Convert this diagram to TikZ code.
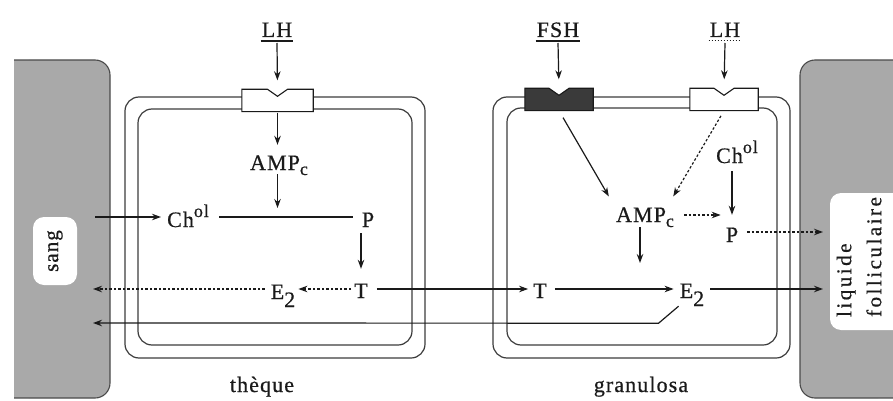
\documentclass[tikz,border=0pt]{standalone}
\usepackage{fontspec}
\setmainfont{Liberation Serif}[LetterSpace=5,FakeBold=0.6]
\usetikzlibrary{arrows.meta}
\definecolor{bg}{HTML}{A9A9A9}
\definecolor{edge}{HTML}{4A4A4A}
\definecolor{ink}{HTML}{1A1A1A}
\definecolor{dark}{HTML}{3A3A3A}
\newcommand{\myAMP}{AMP\raisebox{-5pt}{\fontsize{18}{18}\selectfont c}}
\newcommand{\myChol}{Ch\raisebox{10pt}{\fontsize{18}{18}\selectfont ol}}
\newcommand{\myE}{E\raisebox{-8pt}{2}}
\newcommand{\myreceptor}[2]{\draw[line width=1.1pt, draw=ink, fill=#2] (#1.south west) -- (#1.north west) -- ([xshift=-10pt]#1.north) -- ([yshift=-7pt]#1.north) -- ([xshift=10pt]#1.north) -- (#1.north east) -- (#1.south east) -- cycle;}
\begin{document}
\begin{tikzpicture}[x=1pt,y=-1pt,
  font=\fontsize{22}{26}\selectfont,
  txt/.style={anchor=base, inner sep=1pt, text height=14pt, text depth=0pt, text=ink},
  arr/.style={draw=ink, line width=1.2pt, -{Stealth[length=9pt,width=6.5pt]}},
  darr/.style={arr, dash pattern=on 2.5pt off 2pt},
  ln/.style={draw=ink, line width=1.2pt},
  mem/.style={draw=ink!85, line width=1.2pt, rounded corners=14pt},
  recbox/.style={minimum width=#1, minimum height=22pt, inner sep=0pt},
  tag/.style={fill=white, rounded corners=11pt, inner sep=0pt},
]
\useasboundingbox (0,0) rectangle (893,401);

% blood side
\fill[bg, rounded corners=15pt] (14,60) rectangle (110,398);
\fill[bg] (14,60) rectangle (40,398);
\draw[edge, line width=1.1pt, rounded corners=15pt] (14,60) -- (110,60) -- (110,398) -- (14,398);
% follicular fluid side
\fill[bg, rounded corners=15pt] (800,60) rectangle (893,398);
\fill[bg] (860,60) rectangle (893,398);
\draw[edge, line width=1.1pt, rounded corners=15pt] (893,60) -- (800,60) -- (800,398) -- (893,398);

\node[tag, minimum width=44pt, minimum height=68pt] (sangbox) at (55,251) {};
\node[rotate=90, text=ink, inner sep=0pt, font=\fontsize{21}{25}\selectfont] (sang) at (55,251) {sang};
\node[tag, minimum width=80pt, minimum height=137pt] (liqbox) at (870,261.5) {};
\node[rotate=90, align=left, text=ink, inner sep=0pt,
      font=\fontsize{21}{30}\selectfont\addfontfeature{LetterSpace=12}] (liq) at (859,257) {liquide\\folliculaire};

% membranes
\draw[mem] (125,97) rectangle (425,358);
\draw[mem] (138,109) rectangle (412,345);
\draw[mem] (493,97) rectangle (790,358);
\draw[mem] (507,108) rectangle (777,345);

% receptors
\node[recbox=71pt] (r1) at (277.5,100.5) {};
\node[recbox=68pt] (r2) at (559,99.5) {};
\node[recbox=68pt] (r3) at (724,99.5) {};
\myreceptor{r1}{white}
\myreceptor{r2}{dark}
\myreceptor{r3}{white}

% hormones
\node[txt] (lh1) at (277,37) {LH};
\node[txt] (fsh) at (558,37) {FSH};
\node[txt] (lh2) at (725,37) {LH};
\draw[ln, line width=1.4pt] ([yshift=-4pt]lh1.base west) -- ([yshift=-4pt]lh1.base east);
\draw[ln, line width=1.4pt] ([yshift=-4pt]fsh.base west) -- ([yshift=-4pt]fsh.base east);
\draw[ln, line width=1pt, dash pattern=on 1.5pt off 1.5pt] ([yshift=-4pt]lh2.base west) -- ([yshift=-4pt]lh2.base east);
\draw[arr, shorten >=9pt] ([yshift=-6pt]lh1.base) -- (r1.north);
\draw[arr, shorten >=9pt] ([yshift=-6pt]fsh.base) -- (r2.north);
\draw[arr, shorten >=9pt] ([yshift=-6pt]lh2.base) -- (r3.north);

% theque contents
\node[txt] (amp1) at (279,170) {\myAMP};
\node[txt] (chol1) at (188,227) {\myChol};
\node[txt] (p1) at (368,227) {P};
\node[txt] (t1) at (361,298) {T};
\node[txt] (e1) at (283,299) {\myE};
\node[txt] (theque) at (262,392) {thèque};

% granulosa contents
\node[txt] (amp2) at (645,222) {\myAMP};
\node[txt] (chol2) at (737,163) {\myChol};
\node[txt] (p2) at (732,242) {P};
\node[txt] (t2) at (540,298) {T};
\node[txt] (e2) at (692,298) {\myE};
\node[txt] (gran) at (641,392) {granulosa};

% coordinates
\coordinate (j1) at (277.5,217);
\coordinate (s1) at (95,217);
\coordinate (rowB) at (0,289);
\coordinate (s2) at (93,289);
\coordinate (s3) at (93,323);
\coordinate (l2) at (823,289);
\coordinate (rowD) at (0,215);
\coordinate (rowE) at (0,232);
\coordinate (l1) at (823,232);
\coordinate (k1) at (640,263);

% theque connectors
\draw[arr, shorten <=1pt, shorten >=10pt] (r1.south) -- (r1.south |- amp1.north);
\draw[arr, shorten <=3pt, shorten >=9pt] (r1.south |- amp1.south) -- (j1);
\draw[ln, shorten <=9pt, shorten >=8pt] (chol1.east |- j1) -- (p1.west |- j1);
\draw[arr, shorten >=5pt] (s1) -- (chol1.west |- j1);
\draw[arr, shorten <=5pt, shorten >=14pt] (t1.north |- p1.south) -- (t1.north);
\draw[darr, shorten <=2pt, shorten >=2pt] (t1.west |- rowB) -- (e1.east |- rowB);
\draw[darr, shorten <=5pt] (e1.west |- rowB) -- (s2);
\draw[arr, shorten <=8pt, shorten >=4pt] (t1.east |- rowB) -- (t2.west |- rowB);

% granulosa connectors
\draw[arr, shorten <=7pt, shorten >=5pt] (t2.east |- rowB) -- (e2.west |- rowB);
\draw[arr, shorten <=5pt] (e2.east |- rowB) -- (l2);
\draw[arr] ([yshift=-7pt]e2.south west) -- ++(-20,17) -- (s3);
\draw[arr, shorten <=8pt, shorten >=12pt] (r2.south) -- (amp2.north west);
\draw[darr, shorten <=6pt, shorten >=12pt] (r3.south) -- ([xshift=-8pt]amp2.north east);
\draw[darr, shorten <=9pt, shorten >=4pt] (amp2.east |- rowD) -- (p2.west |- rowD);
\draw[arr, shorten <=7pt, shorten >=12pt] (p2.north |- chol2.south) -- (p2.north);
\draw[darr, shorten <=8pt] (p2.east |- rowE) -- (l1);
\draw[arr, shorten <=4pt] (k1 |- amp2.south) -- (k1);
\end{tikzpicture}
\end{document}
